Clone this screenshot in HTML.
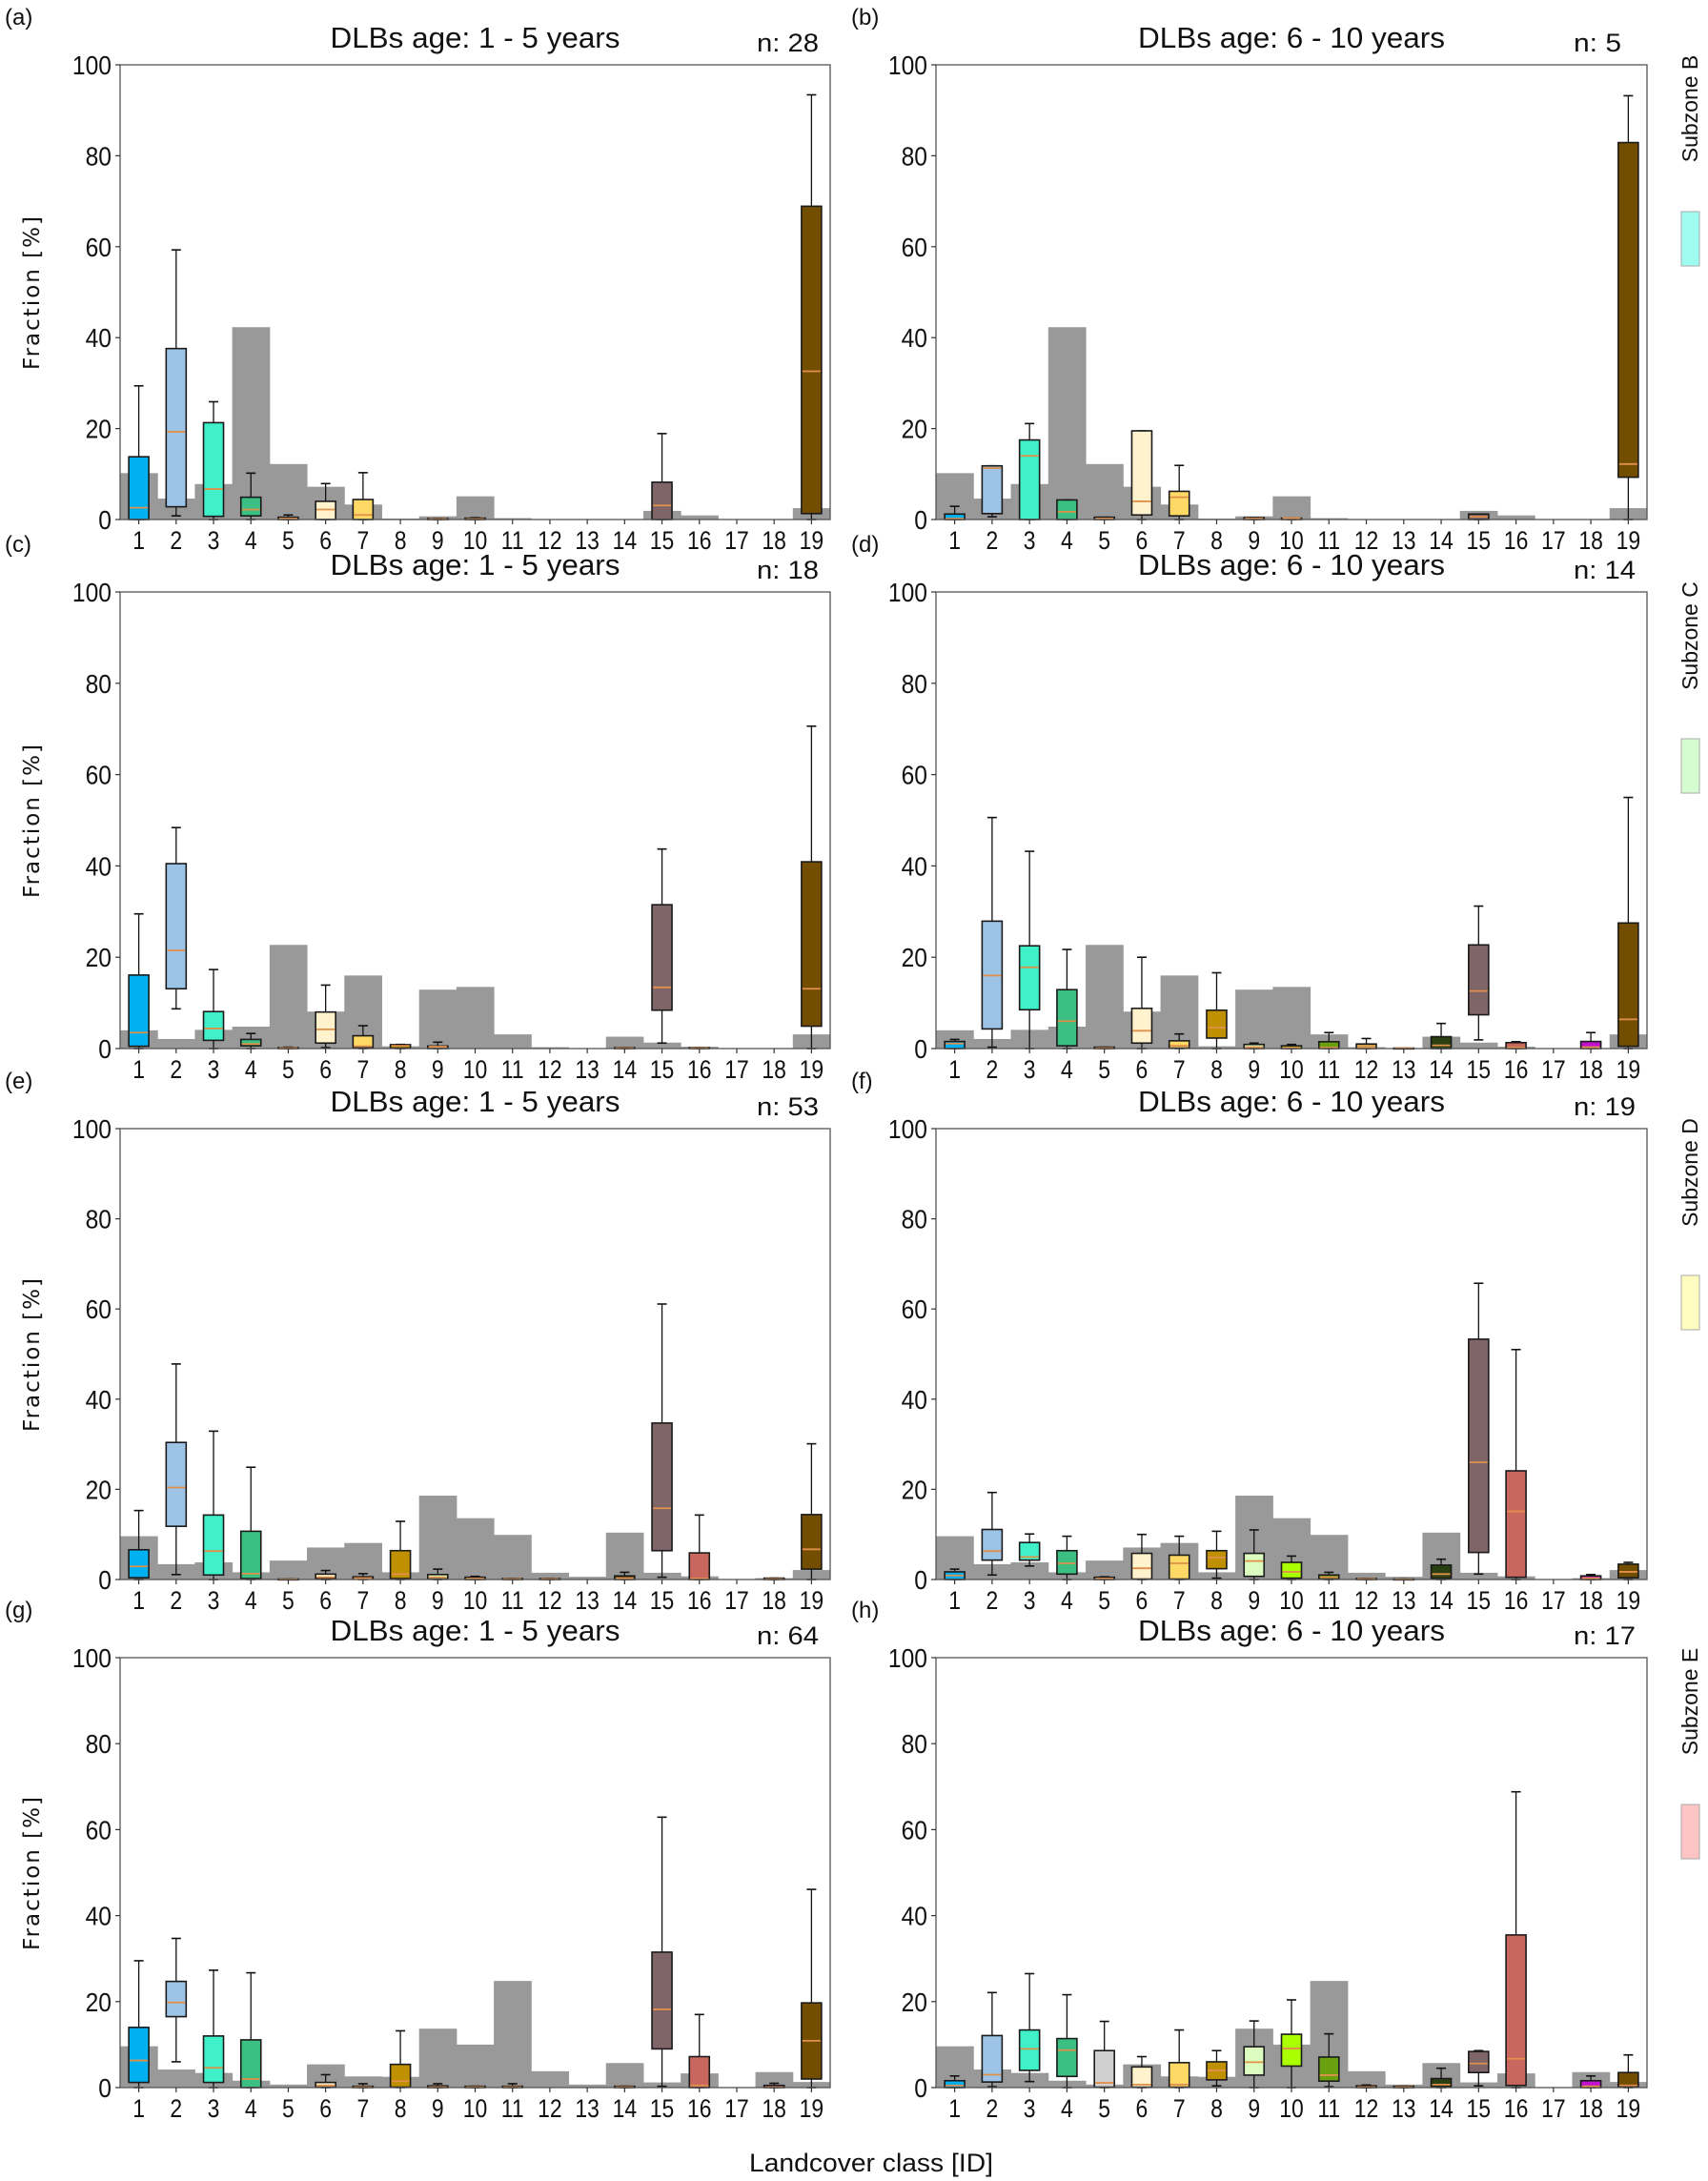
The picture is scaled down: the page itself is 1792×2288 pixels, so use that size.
<!DOCTYPE html>
<html><head><meta charset="utf-8"><style>
html,body{margin:0;padding:0;background:#fff;}
svg{display:block;font-family:"Liberation Sans",sans-serif;}
</style></head><body>
<svg id="fig" width="1792" height="2288" viewBox="0 0 1792 2288" xmlns="http://www.w3.org/2000/svg"></svg>
<script>
const classes = [1,2,3,4,5,6,7,8,9,10,11,12,13,14,15,16,17,18,19];
const yTicks = [0,20,40,60,80,100];
const classColors = ["#00b0f0","#9dc3e6","#3ff0c8","#3cbf82","#d0d0d0","#fff2cc","#ffd966","#bf9000","#dcfcc0","#aaff00","#6aa010","#d0a050","#c08040","#2a4010","#7f6468","#c8675e","#999999","#c010d0","#744e00"];
// background (gray) class fractions per subzone
const grayB = [10.2,4.6,7.8,42.3,12.2,7.2,3.3,0.2,0.7,5.1,0.3,0.1,0.1,0.1,1.9,0.9,0.1,0.1,2.5];
const grayC = [4.0,2.1,4.1,4.8,22.7,8.1,16.0,0.5,12.9,13.5,3.1,0.3,0.1,2.6,1.3,0.4,0.1,0.1,3.1];
const grayD = [9.6,3.4,3.8,1.6,4.2,7.1,8.1,1.6,18.6,13.6,9.9,1.5,0.6,10.4,1.5,0.7,0.1,0.3,2.1];
const grayE = [9.6,4.2,3.4,1.6,0.7,5.4,2.6,2.5,13.7,10.0,24.8,3.8,0.7,5.7,1.2,3.3,0.0,3.6,1.3];
// boxes: [class, whiskerLow, q1, median, q3, whiskerHigh]
const boxesA = [[1,0,0,2.6,13.8,29.4],[2,0.8,2.8,19.3,37.6,59.3],[3,0,0.7,6.7,21.3,25.9],[4,0,0.8,2.2,4.9,10.2],[5,0,0,0.2,0.5,1.0],[6,0,0,2.2,4.0,7.9],[7,0,0,1.0,4.4,10.3],[9,0,0,0.1,0.2,0.2],[10,0,0,0.1,0.3,0.4],[15,0,0,3.1,8.2,18.9],[19,0,1.3,32.6,68.9,93.4]];
const boxesB = [[1,0,0,0.2,1.2,2.9],[2,0.6,1.3,11.3,11.8,11.8],[3,0,0,14.0,17.5,21.1],[4,0,0,1.7,4.3,4.3],[5,0,0,0.2,0.5,0.5],[6,0,1.0,4.0,19.5,19.5],[7,0,0.8,4.9,6.2,11.9],[9,0,0,0.2,0.4,0.4],[10,0,0,0.3,0.3,0.3],[15,0,0,0.6,1.2,1.2],[19,0,9.3,12.2,82.9,93.2]];
const boxesC = [[1,0,0.5,3.5,16.1,29.5],[2,8.7,13.1,21.5,40.5,48.4],[3,0,1.8,4.4,8.1,17.3],[4,0,0.6,1.0,2.0,3.3],[5,0,0,0.1,0.2,0.3],[6,0.2,1.2,4.2,8.0,13.9],[7,0,0.2,0.5,2.8,5.0],[8,0,0.1,0.6,0.85,0.9],[9,0,0,0.4,0.55,1.4],[14,0,0,0.1,0.2,0.2],[15,1.2,8.4,13.4,31.5,43.7],[16,0,0,0.1,0.2,0.2],[19,0,4.9,13.1,40.9,70.6]];
const boxesD = [[1,0,0,1.1,1.55,2.0],[2,0.3,4.3,16.0,27.9,50.6],[3,0,8.5,17.8,22.5,43.2],[4,0,0.6,6.0,12.9,21.7],[5,0,0,0.1,0.3,0.3],[6,0,1.2,3.9,8.8,20.0],[7,0,0.1,0.6,1.7,3.2],[8,0,2.3,4.6,8.4,16.6],[9,0,0,0.3,0.9,1.2],[10,0,0,0.2,0.6,0.9],[11,0,0,0.2,1.5,3.5],[12,0,0,0.2,1.0,2.2],[13,0,0,0.1,0.1,0.1],[14,0,0,0.7,2.6,5.5],[15,1.9,7.4,12.6,22.7,31.2],[16,0,0,0.2,1.3,1.5],[18,0,0,0.3,1.55,3.5],[19,0,0.5,6.4,27.5,55.0]];
const boxesE = [[1,0,0.4,2.9,6.6,15.3],[2,1.1,11.8,20.4,30.4,47.8],[3,0,1.0,6.3,14.3,32.9],[4,0,0.2,1.3,10.7,24.9],[5,0,0,0.05,0.1,0.1],[6,0,0.2,0.5,1.2,2.0],[7,0,0.1,0.3,0.6,1.3],[8,0,0.2,1.2,6.4,12.9],[9,0,0.1,0.5,1.1,2.3],[10,0,0,0.2,0.5,0.7],[11,0,0,0.1,0.2,0.2],[12,0,0,0.1,0.2,0.2],[14,0,0,0.3,0.8,1.6],[15,0.5,6.4,15.8,34.7,61.1],[16,0,0,0.2,5.9,14.3],[18,0,0,0.1,0.3,0.3],[19,0,2.3,6.7,14.4,30.1]];
const boxesF = [[1,0,0,0.9,1.7,2.3],[2,1.0,4.3,6.3,11.1,19.3],[3,3.0,4.3,5.0,8.2,10.1],[4,0,1.2,3.6,6.4,9.6],[5,0,0,0.2,0.5,0.6],[6,0,0.1,2.5,5.8,10.0],[7,0,0.1,3.6,5.4,9.6],[8,0.3,2.4,4.9,6.4,10.7],[9,0,0.7,4.1,5.8,11.0],[10,0,0.3,1.7,3.8,5.2],[11,0,0.1,0.5,1.0,1.6],[12,0,0,0.1,0.2,0.2],[13,0,0,0.05,0.1,0.1],[14,0,0.2,1.2,3.2,4.5],[15,1.2,6.0,26.0,53.3,65.7],[16,0,0.5,15.1,24.1,51.0],[18,0,0,0.3,0.8,1.1],[19,0,0.4,1.7,3.4,3.8]];
const boxesG = [[1,0,1.2,6.3,14.0,29.5],[2,6.0,16.5,19.8,24.7,34.7],[3,0,1.2,4.6,12.0,27.3],[4,0,0,2.0,11.1,26.7],[6,0,0.1,0.5,1.2,3.0],[7,0,0,0.1,0.3,0.9],[8,0,0.1,1.5,5.4,13.2],[9,0,0,0.1,0.4,0.9],[10,0,0,0.1,0.3,0.3],[11,0,0,0.1,0.3,0.9],[14,0,0,0.1,0.3,0.3],[15,0.3,9.0,18.2,31.5,62.9],[16,0,0,0.5,7.2,17.0],[18,0,0,0.1,0.5,1.0],[19,0,2.0,10.9,19.7,46.1]];
const boxesH = [[1,0,0,0.5,1.6,2.7],[2,0.2,1.3,3.0,12.1,22.1],[3,1.4,4.0,9.0,13.4,26.5],[4,0,2.6,8.7,11.4,21.6],[5,0,0.1,1.1,8.6,15.4],[6,0,0.1,0.7,4.8,7.2],[7,0,0.1,0.7,5.8,13.4],[8,0.4,1.8,4.0,6.0,8.6],[9,0,2.9,5.9,9.5,15.5],[10,0,5.0,9.1,12.4,20.4],[11,0.2,1.5,2.9,7.1,12.5],[12,0,0,0.1,0.4,0.6],[13,0,0,0.1,0.3,0.3],[14,0,0.2,0.7,2.1,4.5],[15,0.4,3.5,5.6,8.4,8.6],[16,0,0.5,6.7,35.5,68.8],[18,0,0,0.3,1.6,2.7],[19,0,0.3,0.5,3.5,7.6]];
const nCounts = [28,5,18,14,53,19,64,17];
const panelLetters = ["(a)","(b)","(c)","(d)","(e)","(f)","(g)","(h)"];
const titles = ["DLBs age: 1 - 5 years","DLBs age: 6 - 10 years"];
const subzones = ["Subzone B","Subzone C","Subzone D","Subzone E"];
const subzoneColors = ["#9ffcf0","#d4fcd0","#fffcc0","#fcc4c4"];

const NS="http://www.w3.org/2000/svg";
const svg=document.getElementById('fig');
function mk(tag,attrs,parent,text){const e=document.createElementNS(NS,tag);for(const k in attrs)e.setAttribute(k,attrs[k]);if(text!==undefined)e.textContent=text;(parent||svg).appendChild(e);return e;}

const rowTop=[68,621,1184,1739], rowBot=[545,1100,1657,2190];
const colL=[126,982], colR=[871,1728];
const titleW=[304,322];
const grays=[grayB,grayC,grayD,grayE];
const boxSets=[boxesA,boxesB,boxesC,boxesD,boxesE,boxesF,boxesG,boxesH];

for(let r=0;r<4;r++){
  for(let c=0;c<2;c++){
    const p=r*2+c;
    const L=colL[c],R=colR[c],T=rowTop[r],B=rowBot[r];
    const step=(R-L)/classes.length;
    const xC=i=>L+(i-0.5)*step;
    const yS=v=>B-(v/100)*(B-T);
    const g=mk('g',{});
    
    
    const lt=mk('text',{x:c?893:5,y:T-42,'font-size':24,fill:'#111'},g,panelLetters[p]);
    
    const tt=mk('text',{x:(L+R)/2,y:T-18,'font-size':31,'text-anchor':'middle',fill:'#111',textLength:titleW[c],lengthAdjust:'spacingAndGlyphs'},g,titles[c]);
    
    const nt=mk('text',{x:R-77,y:T-14,'font-size':27,fill:'#111',textLength:(String(nCounts[p]).length===1?50:65),lengthAdjust:'spacingAndGlyphs'},g,'n: '+nCounts[p]);
    
    grays[r].forEach((v,i)=>{
      const rc=mk('rect',{x:L+i*step,y:yS(v),width:step+0.5,height:B-yS(v),fill:'#999999'},g);
      
    });
    boxSets[p].forEach(b=>{
      const [cls,lo,q1,md,q3,hi]=b;const x=xC(cls);const w=21;
      const bg=mk('g',{},g);
      
      mk('line',{x1:x,x2:x,y1:yS(q3),y2:yS(hi),stroke:'#111','stroke-width':1.3},bg);
      mk('line',{x1:x,x2:x,y1:yS(q1),y2:yS(lo),stroke:'#111','stroke-width':1.3},bg);
      mk('line',{x1:x-5,x2:x+5,y1:yS(hi),y2:yS(hi),stroke:'#111','stroke-width':1.6},bg);
      mk('line',{x1:x-5,x2:x+5,y1:yS(lo),y2:yS(lo),stroke:'#111','stroke-width':1.6},bg);
      mk('rect',{x:x-w/2,y:yS(q3),width:w,height:Math.max(yS(q1)-yS(q3),0.8),fill:classColors[cls-1],stroke:'#1a1a1a','stroke-width':1.6},bg);
      mk('line',{x1:x-w/2+1,x2:x+w/2-1,y1:yS(md),y2:yS(md),stroke:'#e0904a','stroke-width':1.8},bg);
    });
    const fr=mk('rect',{x:L,y:T,width:R-L,height:B-T,fill:'none',stroke:'#555','stroke-width':1.3},g);
    
    yTicks.forEach(v=>{
      mk('line',{x1:L-5,x2:L,y1:yS(v),y2:yS(v),stroke:'#333','stroke-width':1.2},g);
      const yl=mk('text',{x:L-9,y:yS(v)+10,'font-size':28,'text-anchor':'end',fill:'#111',transform:`translate(${(L-9)*0.12},0) scale(0.88,1)`},g,String(v));
      
    });
    classes.forEach(cl=>{
      mk('line',{x1:xC(cl),x2:xC(cl),y1:B,y2:B+5,stroke:'#333','stroke-width':1.2},g);
      const xl=mk('text',{x:xC(cl),y:B+31,'font-size':27,'text-anchor':'middle',fill:'#111',transform:`translate(${xC(cl)*0.15},0) scale(0.85,1)`},g,String(cl));
      
    });
    if(c===0){
      const ya=mk('text',{x:0,y:0,'font-size':23,'text-anchor':'middle','font-family':'DejaVu Sans, sans-serif','letter-spacing':2,fill:'#111',transform:`translate(41,${(T+B)/2}) rotate(-90)`},g,'Fraction [%]');
      
    } else {
      const sz=mk('text',{x:0,y:0,'font-size':23,'text-anchor':'middle',fill:'#111',transform:`translate(1781,${T+46}) rotate(-90)`},g,subzones[r]);
      
      const sw=mk('rect',{x:1764,y:T+154,width:19,height:57,fill:subzoneColors[r],stroke:'#aaa','stroke-width':1},g);
      
    }
  }
}
const xt=mk('text',{x:914,y:2278,'font-size':27,'text-anchor':'middle',fill:'#111',textLength:256,lengthAdjust:'spacingAndGlyphs'},svg,'Landcover class [ID]');


</script>
</body></html>
